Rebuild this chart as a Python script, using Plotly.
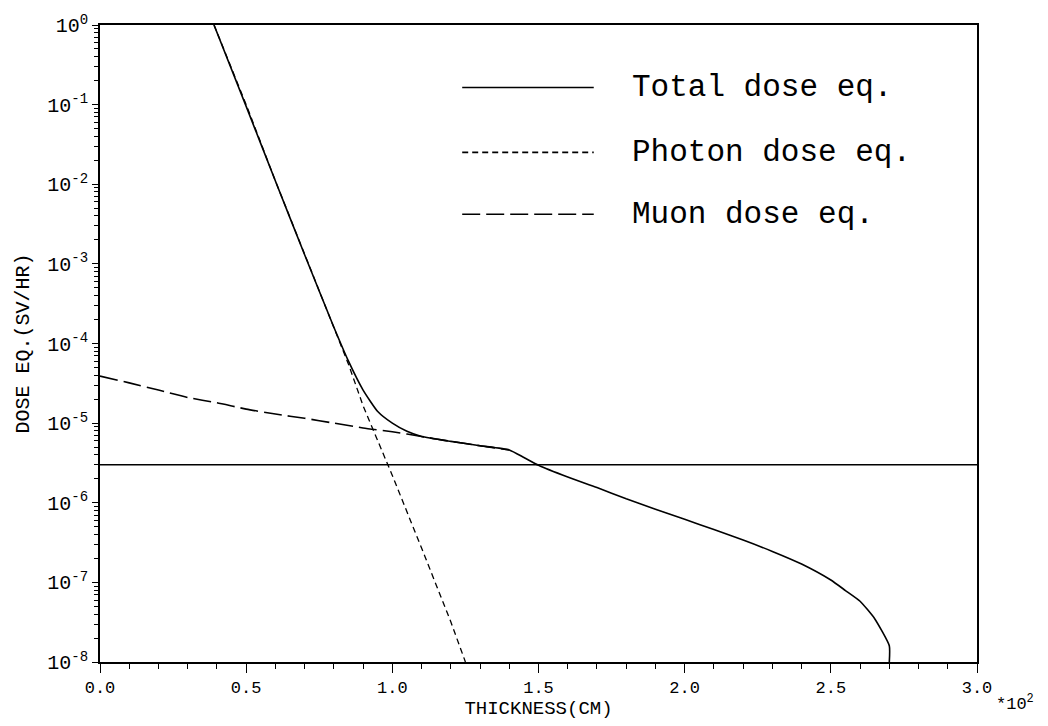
import plotly.graph_objects as go

# Thickness in units of 10^2 cm, dose equivalent in Sv/hr
total_x = [0.39, 0.5, 0.6, 0.7, 0.8, 0.85, 0.9, 0.95, 1.0, 1.05, 1.1, 1.2, 1.3, 1.4, 1.45,
           1.5, 1.6, 1.7, 1.8, 1.9, 2.0, 2.1, 2.2, 2.3, 2.4, 2.5, 2.55, 2.6, 2.65, 2.7, 2.7]
total_y = [1.0, 9.5e-2, 1.1e-2, 1.3e-3, 1.6e-4, 6.0e-5, 2.6e-5, 1.4e-5, 1.0e-5, 7.9e-6, 6.8e-6,
           5.9e-6, 5.2e-6, 4.6e-6, 3.7e-6, 2.95e-6, 2.1e-6, 1.55e-6, 1.12e-6, 8.3e-7, 6.2e-7,
           4.6e-7, 3.4e-7, 2.45e-7, 1.7e-7, 1.07e-7, 7.9e-8, 5.8e-8, 3.5e-8, 1.6e-8, 1.0e-8]

photon_x = [0.39, 0.5, 0.6, 0.7, 0.8, 0.85, 0.9, 1.0, 1.1, 1.2, 1.25]
photon_y = [1.0, 1.0e-1, 1.1e-2, 1.3e-3, 1.6e-4, 5.5e-5, 1.65e-5, 2.2e-6, 2.7e-7, 3.2e-8, 1.0e-8]

muon_x = [0.0, 0.1, 0.2, 0.3, 0.4, 0.5, 0.6, 0.7, 0.8, 0.9, 1.0, 1.1, 1.2, 1.3, 1.4]
muon_y = [3.9e-5, 3.2e-5, 2.6e-5, 2.1e-5, 1.8e-5, 1.5e-5, 1.3e-5, 1.15e-5, 1.0e-5, 8.7e-6,
          7.8e-6, 6.8e-6, 5.9e-6, 5.2e-6, 4.6e-6]

limit_x = [0.0, 3.0]
limit_y = [3.0e-6, 3.0e-6]

legend_labels = ["Total dose eq.", "Photon dose eq.", "Muon dose eq."]
legend_dashes = ["solid", "6px,4px", "18px,6px"]

x_tickvals = [0.0, 0.5, 1.0, 1.5, 2.0, 2.5, 3.0]
x_ticktext = ["0.0", "0.5", "1.0", "1.5", "2.0", "2.5", "3.0"]
y_exponents = [0, -1, -2, -3, -4, -5, -6, -7, -8]

FONT = "Liberation Mono, DejaVu Sans Mono, monospace"
LW = 1.6

fig = go.Figure()
fig.add_trace(go.Scatter(x=limit_x, y=limit_y, mode="lines",
                         line=dict(color="black", width=LW), showlegend=False))
fig.add_trace(go.Scatter(x=muon_x, y=muon_y, mode="lines", name=legend_labels[2],
                         line=dict(color="black", width=LW, dash=legend_dashes[2], shape="spline",
                                   smoothing=0.6), showlegend=False))
fig.add_trace(go.Scatter(x=photon_x, y=photon_y, mode="lines", name=legend_labels[1],
                         line=dict(color="black", width=1.3, dash=legend_dashes[1]), showlegend=False))
fig.add_trace(go.Scatter(x=total_x, y=total_y, mode="lines", name=legend_labels[0],
                         line=dict(color="black", width=LW, shape="spline", smoothing=0.5),
                         showlegend=False))

# custom legend (long line samples as in the original)
leg_y = [0.902, 0.800, 0.703]
for lab, dash, yy in zip(legend_labels, legend_dashes, leg_y):
    fig.add_shape(type="line", xref="paper", yref="paper", x0=0.413, x1=0.563, y0=yy, y1=yy,
                  line=dict(color="black", width=LW, dash=dash))
    fig.add_annotation(xref="paper", yref="paper", x=0.604, y=yy, text=lab, showarrow=False,
                       xanchor="left", yanchor="middle", font=dict(family=FONT, size=31, color="black"))

minor_y = [k * 10.0 ** e for e in range(-8, 0) for k in range(2, 10)]

fig.update_xaxes(range=[0, 3.0], tickmode="array", tickvals=x_tickvals, ticktext=x_ticktext,
                 ticks="outside", ticklen=9, tickwidth=1.3, tickcolor="black",
                 minor=dict(dtick=0.1, ticks="outside", ticklen=5, tickwidth=1.2, tickcolor="black"),
                 showline=True, linecolor="black", linewidth=1.8, mirror=True, showgrid=False,
                 zeroline=False, tickfont=dict(family=FONT, size=17, color="black"),
                 title=dict(text="THICKNESS(CM)", font=dict(family=FONT, size=19, color="black"), standoff=2))
fig.update_yaxes(type="log", range=[-8, 0], tickmode="array",
                 tickvals=[10.0 ** e for e in y_exponents],
                 ticktext=["10<sup>%d</sup>" % e for e in y_exponents],
                 ticks="outside", ticklen=6, tickwidth=1.3, tickcolor="black",
                 minor=dict(tickmode="array", tickvals=minor_y, ticks="outside", ticklen=4,
                            tickwidth=1.2, tickcolor="black"),
                 showline=True, linecolor="black", linewidth=1.8, mirror=True, showgrid=False,
                 zeroline=False, tickfont=dict(family=FONT, size=20, color="black"),
                 title=dict(text="DOSE EQ.(SV/HR)", font=dict(family=FONT, size=20, color="black"), standoff=12))

fig.add_annotation(xref="paper", yref="paper", x=1.019, y=-0.065, text="*10<sup>2</sup>",
                   showarrow=False, xanchor="left", yanchor="middle",
                   font=dict(family=FONT, size=17, color="black"))

fig.update_layout(width=1048, height=726, margin=dict(l=100, r=71, t=18, b=57),
                  plot_bgcolor="white", paper_bgcolor="white", showlegend=False)

fig.write_html("out.html")
